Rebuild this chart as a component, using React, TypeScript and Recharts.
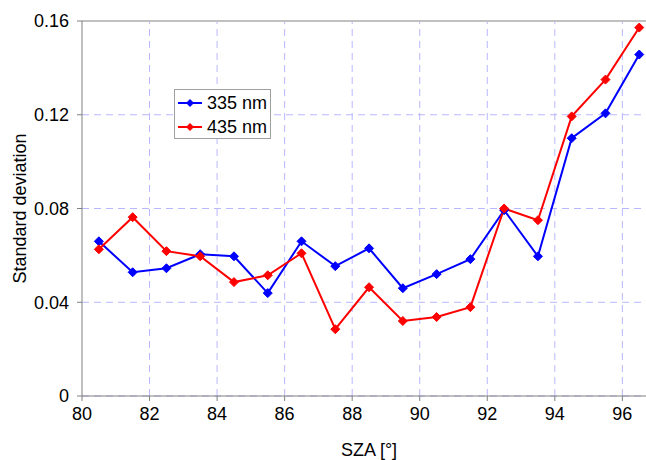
import React from 'react'
import { LineChart, Line, XAxis, YAxis, CartesianGrid, ReferenceLine } from 'recharts'

const sza = [80.5, 81.5, 82.5, 83.5, 84.5, 85.5, 86.5, 87.5, 88.5, 89.5, 90.5, 91.5, 92.5, 93.5, 94.5, 95.5, 96.5]
const nm335 = [0.066, 0.0528, 0.0545, 0.0605, 0.0596, 0.0439, 0.066, 0.0554, 0.063, 0.046, 0.052, 0.0584, 0.0793, 0.0596, 0.110, 0.1206, 0.1457]
const nm435 = [0.0626, 0.0763, 0.0618, 0.0596, 0.0486, 0.0515, 0.0609, 0.0285, 0.0464, 0.032, 0.0337, 0.0379, 0.080, 0.075, 0.1193, 0.135, 0.1572]
const xTicks = [80, 82, 84, 86, 88, 90, 92, 94, 96]
const yTicks = [0, 0.04, 0.08, 0.12, 0.16]

const data = sza.map((x, i) => ({ sza: x, a: nm335[i], b: nm435[i] }))

const FONT = '"Liberation Sans", Arial, sans-serif'
const GRID = '#b8b8ff'

const Diamond = (color: string) => (props: any) => {
  const { cx, cy, index } = props
  if (cx == null || cy == null) return <g key={index} />
  return <path key={index} d={`M${cx},${cy - 4.5}L${cx + 4.5},${cy}L${cx},${cy + 4.5}L${cx - 4.5},${cy}Z`} fill={color} stroke={color} strokeWidth={1} />
}

const legendItems = [
  { label: '335 nm', color: '#0000ff' },
  { label: '435 nm', color: '#ff0000' },
]

function LegendBox() {
  return (
    <div style={{ position: 'absolute', left: 174, top: 89, background: '#fff', border: '1px solid #a0a0a0', width: 97, height: 50, boxSizing: 'border-box', padding: '1px 0 0 3px', fontFamily: FONT, fontSize: 18, color: '#000' }}>
      {legendItems.map(it => (
        <div key={it.label} style={{ display: 'flex', alignItems: 'center', height: 24 }}>
          <svg width={25} height={10} style={{ marginRight: 4 }}>
            <line x1={0} y1={5} x2={24} y2={5} stroke={it.color} strokeWidth={2} />
            <path d="M12,1L16,5L12,9L8,5Z" fill={it.color} />
          </svg>
          <span>{it.label}</span>
        </div>
      ))}
    </div>
  )
}

export default function App() {
  return (
    <div style={{ position: 'absolute', left: 0, top: 0, width: 646, height: 460, background: '#fff' }}>
      <LineChart width={646} height={460} data={data} margin={{ top: 21, right: 0, left: 0, bottom: 0 }}>
        <CartesianGrid stroke={GRID} strokeDasharray="7 5" vertical={false} />
        {xTicks.slice(1).map(t => (
          <ReferenceLine key={t} x={t} stroke={GRID} strokeDasharray="7 5" />
        ))}
        <XAxis
          dataKey="sza"
          type="number"
          domain={[80, 96.7]}
          ticks={xTicks}
          allowDataOverflow
          height={64}
          tickSize={5}
          tickMargin={6}
          stroke="#808080"
          tick={{ fill: '#000', fontSize: 18, fontFamily: FONT }}
          label={{ value: 'SZA [°]', position: 'insideBottom', offset: 4, dx: 5, fill: '#000', fontSize: 18, fontFamily: FONT }}
        />
        <YAxis
          domain={[0, 0.16]}
          ticks={yTicks}
          width={82}
          tickSize={5}
          tickMargin={8}
          stroke="#808080"
          tick={{ fill: '#000', fontSize: 18, fontFamily: FONT }}
          tickFormatter={(v: number) => (v === 0 ? '0' : String(v))}
          label={{ value: 'Standard deviation', angle: -90, position: 'center', dx: -21, fill: '#000', fontSize: 18, fontFamily: FONT }}
        />
        <ReferenceLine y={0.16} stroke="#c0c0c0" strokeWidth={2} />
        <Line dataKey="a" name="335 nm" stroke="#0000ff" strokeWidth={2} dot={Diamond('#0000ff')} isAnimationActive={false} />
        <Line dataKey="b" name="435 nm" stroke="#ff0000" strokeWidth={2} dot={Diamond('#ff0000')} isAnimationActive={false} />
      </LineChart>
      <LegendBox />
    </div>
  )
}
